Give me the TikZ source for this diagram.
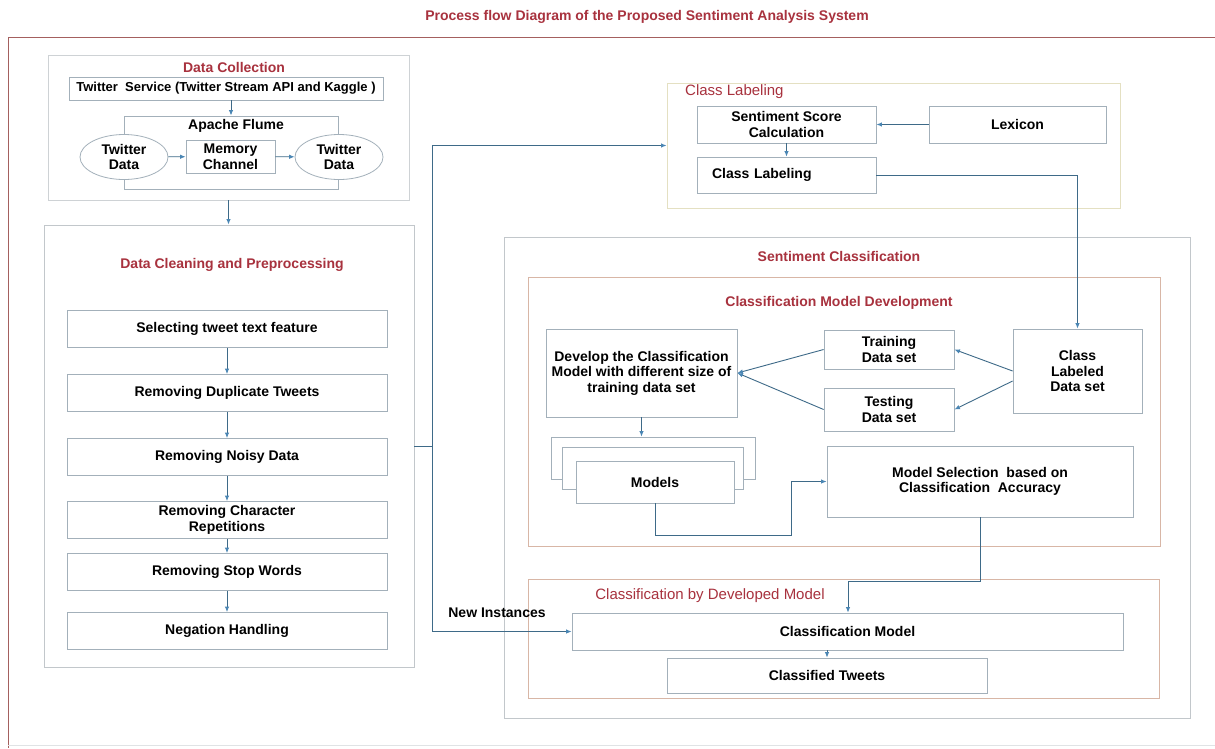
\documentclass[tikz,border=0pt]{standalone}
\usepackage{fontspec}
\setmainfont{Liberation Sans}
\usetikzlibrary{
	positioning				% relative placement
	, arrows.meta			% Latex tips
	, shapes.geometric		% ellipse nodes
}

\definecolor{titlered}{HTML}{A8323E}
\definecolor{framered}{HTML}{A4605E}
\definecolor{boxgray}{HTML}{A3B0BA}
\definecolor{linkblue}{HTML}{3E6A88}
\definecolor{tipblue}{HTML}{4A86B4}
\definecolor{panelgray}{HTML}{C2C7CB}
\definecolor{panelbrown}{HTML}{D8B6A6}
\definecolor{panelyellow}{HTML}{E4E0C2}

\begin{document}
\begin{tikzpicture}[x=1pt, y=-1pt,
			element/.style={
				rectangle,
				draw=boxgray, line width=0.8pt,
				fill=white,
				inner sep=0pt,
				align=center,
				font=\fontsize{14}{15.5}\selectfont\bfseries
			},
			blob/.style={
				element,
				ellipse
			},
			panel/.style={
				rectangle,
				draw=#1, line width=0.9pt,
				fill=white,
				inner sep=0pt
			},
			dims/.style 2 args={
				minimum width=#1pt,
				minimum height=#2pt
			},
			heading/.style={
				text=titlered,
				inner sep=0pt,
				font=\fontsize{14}{16}\selectfont\bfseries
			},
			label/.style={
				inner sep=0pt,
				font=\fontsize{14}{16}\selectfont\bfseries
			},
			arrow/.style={
				->,
				draw=linkblue, line width=0.9pt
			},
			link/.style={
				draw=linkblue, line width=0.9pt
			},
			>={Latex[length=5.5pt, width=4.5pt, color=tipblue]}]

			\useasboundingbox (0,0) rectangle (1215,748);

			%%% Frame and title
			\node [heading] (title) at (647,17) {Process flow Diagram of the Proposed Sentiment Analysis System};
			\draw [framered, line width=1pt] (1215,37) -- (8,37) -- (8,748);
			\draw [panelgray!50, line width=0.8pt] (8,745) -- (1215,745);

			%%% Data collection
			\node [panel=panelgray!80, dims={361}{145}] (dataCollection) at (228.5,127.5) {};
			\node [heading] (collectTitle) at (234,67) {Data Collection};
			\node [element, dims={314}{23}, font=\fontsize{13}{15}\selectfont\bfseries] (twitterService) at (226,88.5) {Twitter\ \ Service (Twitter Stream API and Kaggle )};
			\node [panel=boxgray, dims={214}{73}] (flume) at (231,152.5) {};
			\node [label] (flumeTitle) at (236,126) {Apache Flume};
			\node [blob, dims={88}{45}] (twitterIn) at (124,157) {Twitter\\Data};
			\node [element, dims={89}{33}] (memChannel) at (230.5,156.5) {Memory\\Channel};
			\node [blob, dims={88}{45}] (twitterOut) at (339,157) {Twitter\\Data};

			\draw [arrow] (twitterService.south -| flume.north) -- (flume.north);
			\draw [arrow] (twitterIn) -- (memChannel);
			\draw [arrow] (memChannel) -- (twitterOut);

			%%% Data cleaning and preprocessing
			\node [panel=panelgray, dims={370}{442}] (cleaning) at (229,446) {};
			\node [heading] (cleanTitle) at (232,265) {Data Cleaning and Preprocessing};
			\foreach [count=\i] \y/\step in {329/Selecting tweet text feature, 393/Removing Duplicate Tweets, 457/Removing Noisy Data, 520/Removing Character\\Repetitions, 572/Removing Stop Words, 631/Negation Handling} {
				\node [element, dims={320}{37}] (step\i) at (227,\y) {\step};
			};
			\foreach \i [evaluate=\i as \j using int(\i+1)] in {1,...,5} {
				\draw [arrow] (step\i.south) -- (step\j.north);
			};
			\draw [arrow] (dataCollection.south) -- (dataCollection.south |- cleaning.north);

			%%% Class labeling
			\node [panel=panelyellow, dims={453}{125}] (classLabeling) at (893.5,145.5) {};
			\node [heading, anchor=west, font=\fontsize{15}{17}\selectfont] (labelTitle) at (685,92) {Class Labeling};
			\node [element, dims={179}{37}] (scoreCalc) at (786.5,124.5) {Sentiment Score\\Calculation};
			\node [element, dims={177}{37}] (lexicon) at (1017.5,124.5) {Lexicon};
			\node [element, dims={179}{36}, text width=149pt, inner xsep=15pt, align=left] (classLabel) at (786.5,175) {Class Labeling};

			\draw [arrow] (lexicon) -- (scoreCalc);
			\draw [arrow] (scoreCalc) -- (classLabel);

			%%% Sentiment classification
			\node [panel=panelgray, dims={686}{481}] (sentClass) at (847,477.5) {};
			\node [heading] (sentTitle) at (839,256) {Sentiment Classification};
			\node [panel=panelbrown, dims={632}{269}] (modelDev) at (844,411.5) {};
			\node [heading] (devTitle) at (839,303) {Classification Model Development};

			\node [element, dims={191}{88}] (develop) at (641.5,373) {Develop the Classification\\Model with different size of\\training data set};
			\node [element, dims={130}{39}] (training) at (889,349.5) {Training\\Data set};
			\node [element, dims={130}{43}] (testing) at (889,409.5) {Testing\\Data set};
			\node [element, dims={129}{84}] (labeledSet) at (1077.5,371) {Class\\Labeled\\Data set};

			% stacked model boxes, back to front
			\node [element, dims={204}{42}] (models3) at (653,458) {};
			\node [element, dims={181}{42}] (models2) at (652.5,468) {};
			\node [element, dims={158}{42}] (models) at (655,482) {Models};
			\node [element, dims={306}{71}] (modelSel) at (980,481.5) {Model Selection\ \ based on\\Classification\ \ Accuracy};

			\draw [arrow] (labeledSet.west) -- (training.east);
			\draw [arrow] ([yshift=-10pt]labeledSet.west) -- (testing.east);
			\draw [arrow] (training.west) -- (develop.east);
			\draw [arrow] (testing.west) -- (develop.east);
			\draw [arrow] (develop.south) -- (develop.south |- models3.north);
			\coordinate (bendA) at (791,535);
			\draw [arrow] (models.south) |- (bendA) |- (modelSel.west);

			%%% Classification by developed model
			\node [panel=panelbrown, dims={631}{119}] (byModel) at (843.5,638.5) {};
			\node [heading, font=\fontsize{15}{17}\selectfont] (byTitle) at (710,596) {Classification by Developed Model};
			\node [element, dims={551}{37}] (classModel) at (847.5,631.5) {Classification Model};
			\node [element, dims={320}{35}] (classified) at (827,675.5) {Classified Tweets};

			\coordinate (bendB) at (848,581);
			\draw [link] (modelSel.south) |- (bendB);
			\draw [arrow] (bendB) -- (bendB |- classModel.north);
			\draw [arrow] (classModel.south -| classified.north) -- (classified.north);

			%%% Links across the panels
			\coordinate (split) at (432,446);
			\draw [link] (cleaning.east |- split) -- (split);
			\draw [arrow] (split) |- (classLabeling.west);
			\draw [arrow] (split) |- (classModel.west);
			\node [label] (newInst) at (497,613) {New Instances};
			\draw [arrow] (classLabel.east) -| (labeledSet.north);

		\end{tikzpicture}
\end{document}
